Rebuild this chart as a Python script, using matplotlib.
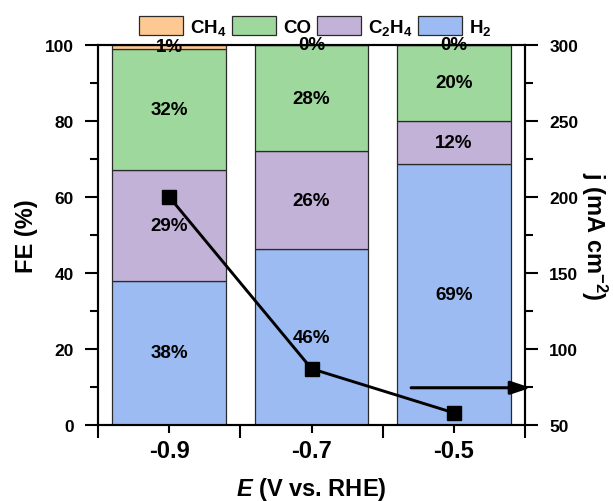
import matplotlib
matplotlib.use("Agg")
import matplotlib.pyplot as plt
from matplotlib.ticker import FixedLocator, NullFormatter, FixedFormatter
from matplotlib.patches import Patch

# ---- data ----
potentials = [-0.9, -0.7, -0.5]
potential_labels = ["-0.9", "-0.7", "-0.5"]
fe_h2 = [38.0, 46.3, 68.6]
fe_c2h4 = [29.0, 25.7, 11.5]
fe_co = [32.0, 28.0, 19.9]
fe_ch4 = [1.0, 0.0, 0.0]
current_density = [200, 87, 58]

species = ["CH$_4$", "CO", "C$_2$H$_4$", "H$_2$"]
colors = {"H2": "#9BBBF2", "C2H4": "#C3B2D7", "CO": "#9ED89D", "CH4": "#FDC891"}

plt.rcParams["font.family"] = ["Liberation Sans", "DejaVu Sans"]
plt.rcParams["font.weight"] = "bold"
plt.rcParams["mathtext.fontset"] = "custom"
plt.rcParams["mathtext.rm"] = "Liberation Sans:bold"
plt.rcParams["mathtext.it"] = "Liberation Sans:bold:italic"
plt.rcParams["mathtext.bf"] = "Liberation Sans:bold"

fig = plt.figure(figsize=(6.13, 5.02), dpi=100)
ax = fig.add_axes([0.160, 0.1514, 0.6965, 0.757])

width = 0.16
edge = dict(edgecolor="#2a2a2a", linewidth=0.9)
bottoms = [0.0, 0.0, 0.0]
segs = [("H2", fe_h2), ("C2H4", fe_c2h4), ("CO", fe_co), ("CH4", fe_ch4)]
for key, vals in segs:
    ax.bar(potentials, vals, width=width, bottom=bottoms, color=colors[key], **edge, zorder=2)
    for x, b, v in zip(potentials, bottoms, vals):
        ax.text(x, b + v / 2.0, f"{v:.0f}%", ha="center", va="center",
                fontsize=13.5, fontweight="bold", zorder=4)
    bottoms = [b + v for b, v in zip(bottoms, vals)]

ax.set_xlim(-1.0, -0.4)
ax.set_ylim(0, 100)

ax.xaxis.set_major_locator(FixedLocator([-1.0, -0.8, -0.6, -0.4]))
ax.xaxis.set_major_formatter(NullFormatter())
ax.xaxis.set_minor_locator(FixedLocator(potentials))
ax.xaxis.set_minor_formatter(FixedFormatter(potential_labels))
ax.tick_params(axis="x", which="major", direction="out", length=9.4, width=1.5)
ax.tick_params(axis="x", which="minor", direction="out", length=5.8, width=1.5,
               labelsize=17, pad=4)
ax.set_yticks([0, 20, 40, 60, 80, 100])
ax.set_yticks([10, 30, 50, 70, 90], minor=True)
ax.tick_params(axis="y", which="major", direction="out", length=9.4, width=1.5,
               labelsize=12.5, pad=8)
ax.tick_params(axis="y", which="minor", direction="out", length=5.8, width=1.5)
for s in ax.spines.values():
    s.set_linewidth(1.5)

ax.set_ylabel("FE (%)", fontsize=17, fontweight="bold", labelpad=5)
ax.set_xlabel(r"$\mathit{E}$ (V vs. RHE)", fontsize=17, fontweight="bold", labelpad=10)

handles = [Patch(facecolor=colors[k], **edge) for k in ["CH4", "CO", "C2H4", "H2"]]
ax.legend(handles, species, loc="center", bbox_to_anchor=(0.508, 1.049), ncol=4,
          frameon=False, handlelength=2.35, handleheight=1.2,
          handletextpad=0.37, columnspacing=0.3, borderpad=0, borderaxespad=0,
          prop={"weight": "bold", "size": 13.5})

ax2 = ax.twinx()
ax2.set_ylim(50, 300)
ax2.set_yticks([50, 100, 150, 200, 250, 300])
ax2.set_yticks([75, 125, 175, 225, 275], minor=True)
ax2.tick_params(axis="y", which="major", direction="out", length=9.4, width=1.5,
                labelsize=12.5, pad=8)
ax2.tick_params(axis="y", which="minor", direction="out", length=5.8, width=1.5)
for s in ax2.spines.values():
    s.set_linewidth(1.5)
ax2.plot(potentials, current_density, color="black", linewidth=2.1, marker="s",
         markersize=10, zorder=5)
ax2.set_ylabel("j (mA cm$^{-2}$)", fontsize=17, fontweight="bold", rotation=270,
               labelpad=22)

ax2.annotate("", xy=(-0.392, 74.5), xytext=(-0.56, 74.5),
             arrowprops=dict(arrowstyle="-|>,head_length=1.2,head_width=0.4",
                             color="black", lw=2.2, shrinkA=0, shrinkB=0),
             annotation_clip=False)

fig.savefig("out.png", dpi=100)
